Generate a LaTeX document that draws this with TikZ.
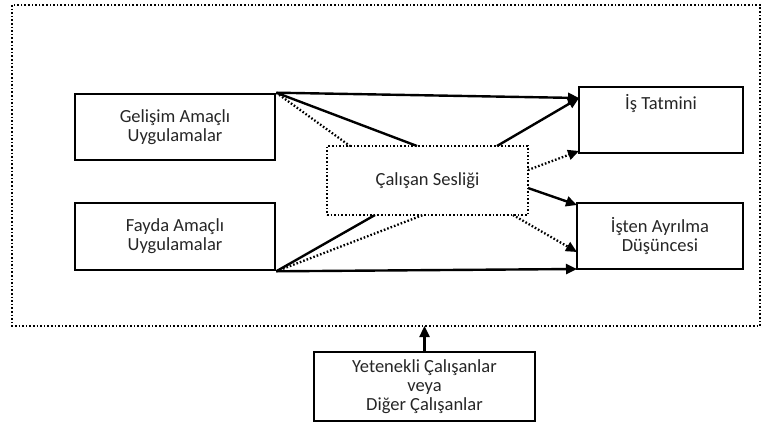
\documentclass[tikz,border=0pt]{standalone}
\usepackage{fontspec}
\setmainfont{Carlito}
\usetikzlibrary{arrows.meta}
\begin{document}
\begin{tikzpicture}
  [x=1pt,y=-1pt,
   every node/.style={font=\fontsize{18.5}{19}\selectfont,align=center,inner sep=0pt,text=black!85},
   block/.style={draw,line width=2.6pt},
   dotline/.style={line width=2.3pt,dash pattern=on 1.6pt off 2pt},
   plain/.style={line width=2.4pt},
   arr/.style={-{Triangle[length=11pt,width=10pt]}}]
  \useasboundingbox (0,0) rectangle (763,423);
  \draw[dotline,line width=1.8pt] (12,5) rectangle (760,326);

  \node[block,minimum width=200pt,minimum height=66pt] (gel) at (175,127) {Gelişim Amaçlı\\Uygulamalar};
  \node[block,minimum width=200pt,minimum height=67pt] (fay) at (175,236.5) {Fayda Amaçlı\\Uygulamalar};
  \node[block,dotline,minimum width=201pt,minimum height=69pt] (ses) at (427.5,180.5) {Çalışan Sesliği};
  \node[block,minimum width=164pt,minimum height=66pt] (tat) at (661,120) {İş Tatmini\\[-1pt]\mbox{}\\\mbox{}};
  \node[block,minimum width=166pt,minimum height=66pt] (ayr) at (660,236) {İşten Ayrılma\\Düşüncesi};
  \node[block,minimum width=221pt,minimum height=69pt] (yet) at (424.5,386.5) {Yetenekli Çalışanlar\\veya\\Diğer Çalışanlar};

  % points on the borders
  \coordinate (s1) at (350,146);
  \coordinate (s2) at (417,146);
  \coordinate (s3) at (497,146);
  \coordinate (s4) at (528,170);
  \coordinate (s5) at (528,188);
  \coordinate (s6) at (375,215);
  \coordinate (s7) at (423,215);
  \coordinate (s8) at (513,215);
  \coordinate (t1) at (579,98);
  \coordinate (t2) at (579,151);
  \coordinate (a1) at (577,205);
  \coordinate (a2) at (577,252);
  \coordinate (a3) at (577,269);
  \coordinate (dis) at (424.5,326);

  \foreach \from/\to in {gel.north east/t1,s3/t1,s5/a1,fay.south east/a3,yet.north/dis}
    \draw[plain,arr] (\from) -- (\to);
  \foreach \from/\to in {gel.north east/s2,fay.south east/s6}
    \draw[plain] (\from) -- (\to);
  \foreach \from/\to in {s4/t2,s8/a2}
    \draw[dotline,arr] (\from) -- (\to);
  \foreach \from/\to in {gel.north east/s1,fay.south east/s7}
    \draw[dotline] (\from) -- (\to);

\end{tikzpicture}
\end{document}
